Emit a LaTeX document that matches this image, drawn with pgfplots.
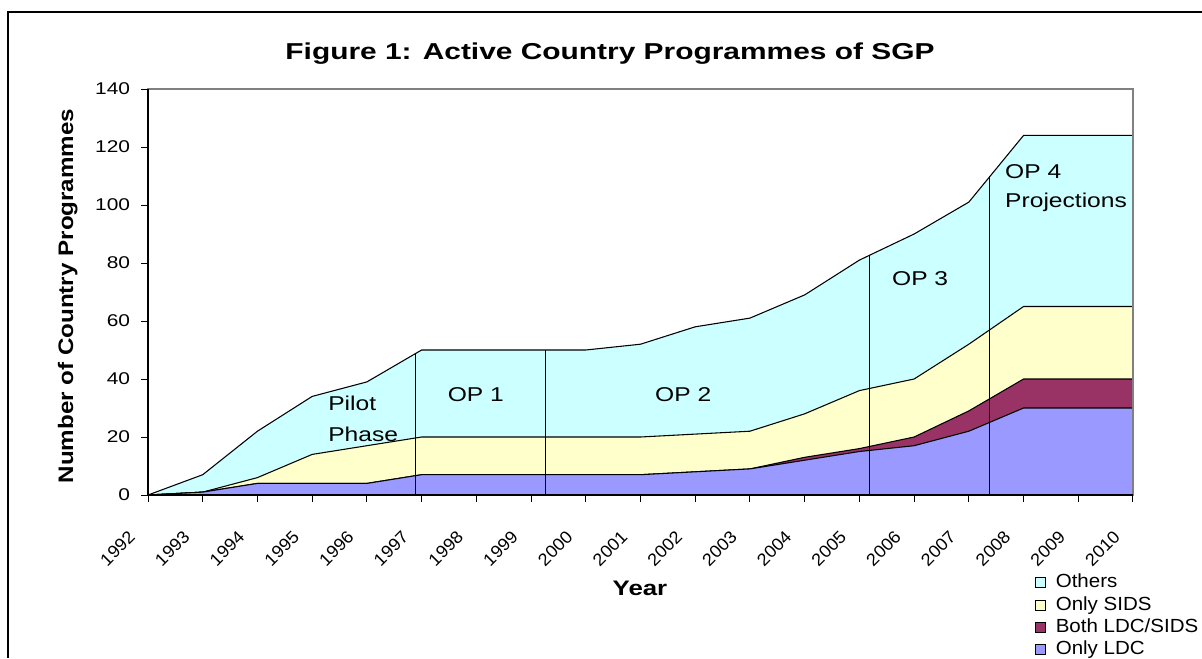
\documentclass[border=0pt]{standalone}
\usepackage{fontspec}
\setmainfont{Liberation Sans}
\newfontfamily\fT{Liberation Sans}[FakeStretch=1.3]
\newfontfamily\fK{Liberation Sans}[FakeStretch=1.23]
\newfontfamily\fY{Liberation Sans}[FakeStretch=1.15]
\newfontfamily\fL{Liberation Sans}[FakeStretch=1.08]
\newfontfamily\fX{Liberation Sans}[FakeStretch=1.05]
\usepackage{pgfplots}
\pgfplotsset{compat=1.18}
\definecolor{cOth}{HTML}{CCFFFF}
\definecolor{cSIDS}{HTML}{FFFFCC}
\definecolor{cBoth}{HTML}{993366}
\definecolor{cLDC}{HTML}{9999FF}
\begin{document}
\begin{tikzpicture}
\useasboundingbox (0,0) rectangle (901.5pt,493.5pt);
\draw[line width=1.1pt] (6pt,0pt) -- (6pt,484.5pt) -- (901.5pt,484.5pt);
\begin{axis}[
  at={(111pt,122.25pt)}, anchor=south west,
  scale only axis, width=738.75pt, height=304.5pt,
  xmin=1992, xmax=2010, ymin=0, ymax=140,
  xtick={1992,...,2010}, ytick={0,20,...,140},
  /pgf/number format/1000 sep={},
  /pgf/number format/assume math mode=true,
  tick pos=left, tick align=outside, major tick length=5.25pt,
  tick style={black, line width=0.75pt},
  axis line style={draw=gray, line width=1pt},
  axis on top,
  yticklabel style={font=\fK\fontsize{12.75pt}{15pt}\selectfont, anchor=east, inner sep=0pt, xshift=-8pt},
  xticklabel style={font=\fX\fontsize{13pt}{15pt}\selectfont, inner sep=0pt, xshift=-12pt, yshift=-24pt, rotate=45, anchor=east},
  legend style={at={(0.9005,-0.1950)}, anchor=north west, draw=none, fill=none,
    inner sep=0pt, outer sep=0pt, row sep=3.9pt, column sep=7.5pt,
    font=\fL\fontsize{14.25pt}{16pt}\selectfont,
    nodes={inner sep=0pt, text height=10.3pt, text depth=2.5pt}},
  legend cell align=left,
  legend image code/.code={\draw[#1, line width=0.6pt] (0pt,-3.75pt) rectangle (7.5pt,3.75pt);},
]
\addplot[fill=cOth, draw=black, line width=0.8pt] coordinates {
(1992,0)(1993,7)(1994,22)(1995,34)(1996,39)(1997,50)(1998,50)(1999,50)(2000,50)(2001,52)
(2002,58)(2003,61)(2004,69)(2005,81)(2006,90)(2007,101)(2008,124)(2009,124)(2010,124)} \closedcycle;
\addlegendentry{Others}
\addplot[fill=cSIDS, draw=black, line width=0.8pt] coordinates {
(1992,0)(1993,1)(1994,6)(1995,14)(1996,17)(1997,20)(1998,20)(1999,20)(2000,20)(2001,20)
(2002,21)(2003,22)(2004,28)(2005,36)(2006,40)(2007,52)(2008,65)(2009,65)(2010,65)} \closedcycle;
\addlegendentry{Only SIDS}
\addplot[fill=cBoth, draw=black, line width=0.8pt] coordinates {
(1992,0)(1993,1)(1994,4)(1995,4)(1996,4)(1997,7)(1998,7)(1999,7)(2000,7)(2001,7)
(2002,8)(2003,9)(2004,13)(2005,16)(2006,20)(2007,29)(2008,40)(2009,40)(2010,40)} \closedcycle;
\addlegendentry{Both LDC/SIDS}
\addplot[fill=cLDC, draw=black, line width=0.8pt] coordinates {
(1992,0)(1993,1)(1994,4)(1995,4)(1996,4)(1997,7)(1998,7)(1999,7)(2000,7)(2001,7)
(2002,8)(2003,9)(2004,12)(2005,15)(2006,17)(2007,22)(2008,30)(2009,30)(2010,30)} \closedcycle;
\addlegendentry{Only LDC}
\addplot[black, line width=0.75pt, forget plot] coordinates {(1996.88,0)(1996.88,48.7)};
\addplot[black, line width=0.75pt, forget plot] coordinates {(1999.27,0)(1999.27,50)};
\addplot[black, line width=0.75pt, forget plot] coordinates {(2005.18,0)(2005.18,82.6)};
\addplot[black, line width=0.75pt, forget plot] coordinates {(2007.38,0)(2007.38,110)};
\begin{scope}[every node/.style={font=\fK\fontsize{15pt}{18pt}\selectfont, inner sep=0pt}]
\node[anchor=base west] at (axis cs:1995.29,29) {Pilot};
\node[anchor=base west] at (axis cs:1995.29,18.3) {Phase};
\node[anchor=base] at (axis cs:1997.99,32.1) {OP 1};
\node[anchor=base] at (axis cs:2001.78,32.1) {OP 2};
\node[anchor=base] at (axis cs:2006.11,72.4) {OP 3};
\node[anchor=base west] at (axis cs:2007.66,109.3) {OP 4};
\node[anchor=base west] at (axis cs:2007.66,99.3) {Projections};
\end{scope}
\end{axis}
\draw[black, line width=1.1pt] (111pt,426.75pt) -- (111pt,122.25pt) -- (849.75pt,122.25pt);
\node[anchor=base, inner sep=0pt, font=\fT\bfseries\fontsize{17.25pt}{20pt}\selectfont] at (457.5pt,448.5pt) {Figure 1: Active Country Programmes of SGP};
\node[anchor=base, rotate=90, inner sep=0pt, font=\fY\bfseries\fontsize{15.75pt}{18pt}\selectfont] at (54.75pt,271.5pt) {Number of Country Programmes};
\node[anchor=base, inner sep=0pt, font=\fK\bfseries\fontsize{15.75pt}{18pt}\selectfont] at (480pt,47.25pt) {Year};
\end{tikzpicture}
\end{document}
